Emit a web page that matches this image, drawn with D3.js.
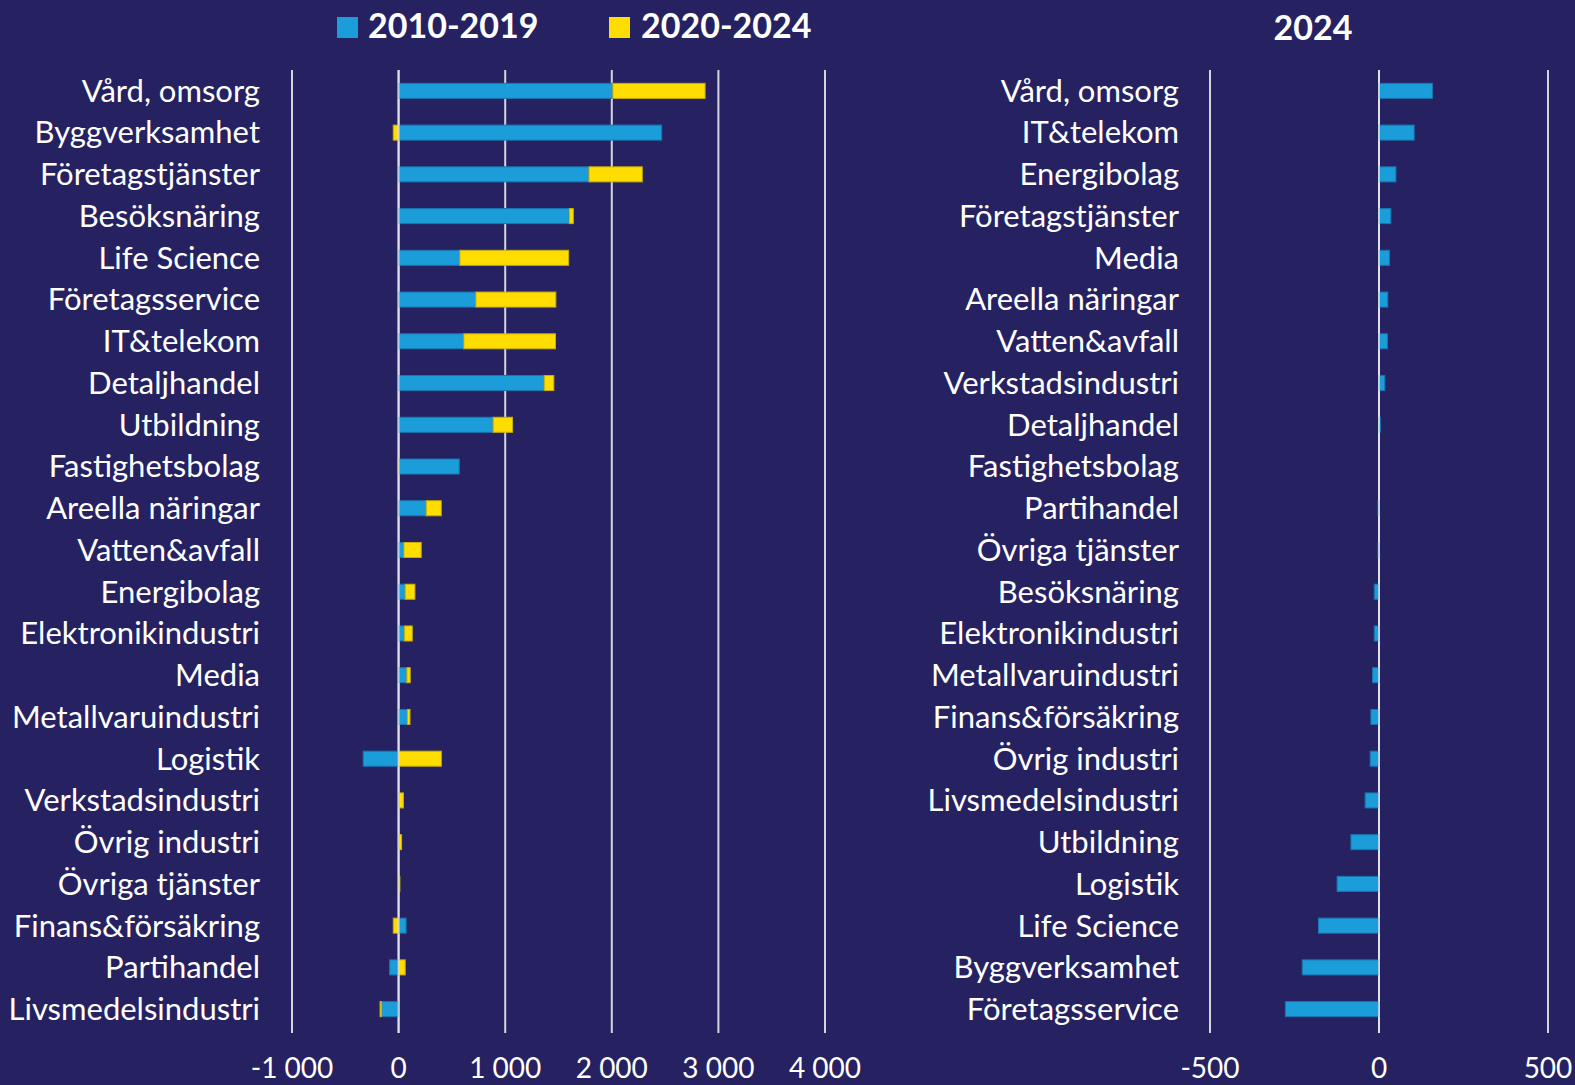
<!DOCTYPE html>
<html lang="sv">
<head>
<meta charset="utf-8">
<title>Sysselsättning per bransch</title>
<script src="https://cdn.jsdelivr.net/npm/d3@7"></script>
<style>
	body { margin: 0; background: #262262; }
	svg text { font-family: Lato, "Noto Sans", sans-serif; fill: #ffffff; }
	.grid line { stroke: #d4d4dc; stroke-width: 2; }
	.noll { stroke: #e6e6ee; stroke-width: 2; opacity: 0.75; }
</style>
</head>
<body>
<script>

// vänster diagram: förändring per period
var branscher = ["Vård, omsorg","Byggverksamhet","Företagstjänster","Besöksnäring","Life Science",
	"Företagsservice","IT&telekom","Detaljhandel","Utbildning","Fastighetsbolag","Areella näringar",
	"Vatten&avfall","Energibolag","Elektronikindustri","Media","Metallvaruindustri","Logistik",
	"Verkstadsindustri","Övrig industri","Övriga tjänster","Finans&försäkring","Partihandel","Livsmedelsindustri"];
var period1 = [2010, 2468, 1786, 1602, 575, 725, 612, 1366, 887, 569, 259, 50, 62, 56, 78, 83, -332, 3, 3, 0, 70, -84, -160];
var period2 = [865, -50, 500, 37, 1020, 750, 860, 90, 182, -5, 141, 162, 91, 72, 31, 24, 401, 42, 25, 12, -50, 62, -14];
var serier = ["2010-2019", "2020-2024"];
var ticksVanster = [-1000, 0, 1000, 2000, 3000, 4000];

// höger diagram: 2024
var branscher2024 = ["Vård, omsorg","IT&telekom","Energibolag","Företagstjänster","Media","Areella näringar",
	"Vatten&avfall","Verkstadsindustri","Detaljhandel","Fastighetsbolag","Partihandel","Övriga tjänster",
	"Besöksnäring","Elektronikindustri","Metallvaruindustri","Finans&försäkring","Övrig industri",
	"Livsmedelsindustri","Utbildning","Logistik","Life Science","Byggverksamhet","Företagsservice"];
var varden2024 = [158, 104, 50, 35, 31, 26, 25, 17, 4, 0, -3, -3, -14, -14, -19, -24, -26, -41, -83, -124, -179, -227, -277];
var ticksHoger = [-500, 0, 500];

var w = 1575, h = 1085;
var yTop = 70, yBottom = 1030;
var blue = "#1b9dd9", yellow = "#ffdd00";

var fmt = d3.formatLocale({decimal: ",", thousands: " ", grouping: [3], currency: ["", ""], minus: "-"}).format(",");

var svg = d3.select("body").append("svg")
	.attr("width", w)
	.attr("height", h);

//Legend
var legend = svg.append("g");
legend.selectAll("rect").data(serier).enter().append("rect")
	.attr("x", function(d, i) { return i == 0 ? 337 : 609; })
	.attr("y", 17).attr("width", 21).attr("height", 21)
	.attr("fill", function(d, i) { return i == 0 ? blue : yellow; });
legend.selectAll("text").data(serier).enter().append("text")
	.attr("x", function(d, i) { return i == 0 ? 368 : 641; })
	.attr("y", 38)
	.attr("font-size", 34).attr("font-weight", "bold")
	.text(function(d) { return d; });

svg.append("text")
	.attr("x", 1313).attr("y", 40)
	.attr("text-anchor", "middle")
	.attr("font-size", 34).attr("font-weight", "bold")
	.text("2024");

//Left chart
var xL = d3.scaleLinear().domain([-1000, 4000]).range([292, 825]);
var yL = d3.scaleBand().domain(branscher).range([yTop, yBottom]).paddingInner(0.64).paddingOuter(0.32);

svg.append("g").attr("class", "grid")
	.selectAll("line").data(ticksVanster).enter().append("line")
	.attr("x1", function(d) { return xL(d); }).attr("x2", function(d) { return xL(d); })
	.attr("y1", yTop).attr("y2", yBottom + 3);

var rows = branscher.map(function(b, i) { return {bransch: b, p1: period1[i], p2: period2[i]}; });
var stack = d3.stack().keys(["p1", "p2"]).offset(d3.stackOffsetDiverging)(rows);

svg.append("g").selectAll("g").data(stack).enter().append("g")
	.attr("fill", function(d, i) { return i == 0 ? blue : yellow; })
	.attr("stroke", function(d, i) { return i == 0 ? "#1876b0" : "#c9ad10"; })
	.attr("stroke-width", 1)
	.selectAll("rect").data(function(d) { return d; }).enter().append("rect")
	.attr("x", function(d) { return xL(Math.min(d[0], d[1])); })
	.attr("width", function(d) { return Math.abs(xL(d[1]) - xL(d[0])); })
	.attr("y", function(d) { return yL(d.data.bransch); })
	.attr("height", yL.bandwidth());

svg.append("line").attr("class", "noll")
	.attr("x1", xL(0)).attr("x2", xL(0)).attr("y1", yTop).attr("y2", yBottom + 3);

svg.append("g").selectAll("text").data(branscher).enter().append("text")
	.attr("x", 260)
	.attr("y", function(d) { return yL(d) + yL.bandwidth() / 2; })
	.attr("dy", "0.35em")
	.attr("text-anchor", "end")
	.attr("font-size", 31)
	.text(function(d) { return d; });

svg.append("g").selectAll("text").data(ticksVanster).enter().append("text")
	.attr("x", function(d) { return xL(d); })
	.attr("y", 1078)
	.attr("text-anchor", "middle")
	.attr("font-size", 28)
	.text(function(d) { return fmt(d); });

//Right chart
var xR = d3.scaleLinear().domain([-500, 500]).range([1210, 1548]);
var yR = d3.scaleBand().domain(branscher2024).range([yTop, yBottom]).paddingInner(0.64).paddingOuter(0.32);

svg.append("g").attr("class", "grid")
	.selectAll("line").data(ticksHoger).enter().append("line")
	.attr("x1", function(d) { return xR(d); }).attr("x2", function(d) { return xR(d); })
	.attr("y1", yTop).attr("y2", yBottom + 3);

svg.append("g").selectAll("rect").data(varden2024).enter().append("rect")
	.attr("fill", blue)
	.attr("stroke", "#1876b0").attr("stroke-width", 1)
	.attr("x", function(d) { return xR(Math.min(0, d)); })
	.attr("width", function(d) { return Math.abs(xR(d) - xR(0)); })
	.attr("y", function(d, i) { return yR(branscher2024[i]); })
	.attr("height", yR.bandwidth());

svg.append("line").attr("class", "noll")
	.attr("x1", xR(0)).attr("x2", xR(0)).attr("y1", yTop).attr("y2", yBottom + 3);

svg.append("g").selectAll("text").data(branscher2024).enter().append("text")
	.attr("x", 1179)
	.attr("y", function(d) { return yR(d) + yR.bandwidth() / 2; })
	.attr("dy", "0.35em")
	.attr("text-anchor", "end")
	.attr("font-size", 31)
	.text(function(d) { return d; });

svg.append("g").selectAll("text").data(ticksHoger).enter().append("text")
	.attr("x", function(d) { return xR(d); })
	.attr("y", 1078)
	.attr("text-anchor", "middle")
	.attr("font-size", 28)
	.text(function(d) { return fmt(d); });

</script>
</body>
</html>
